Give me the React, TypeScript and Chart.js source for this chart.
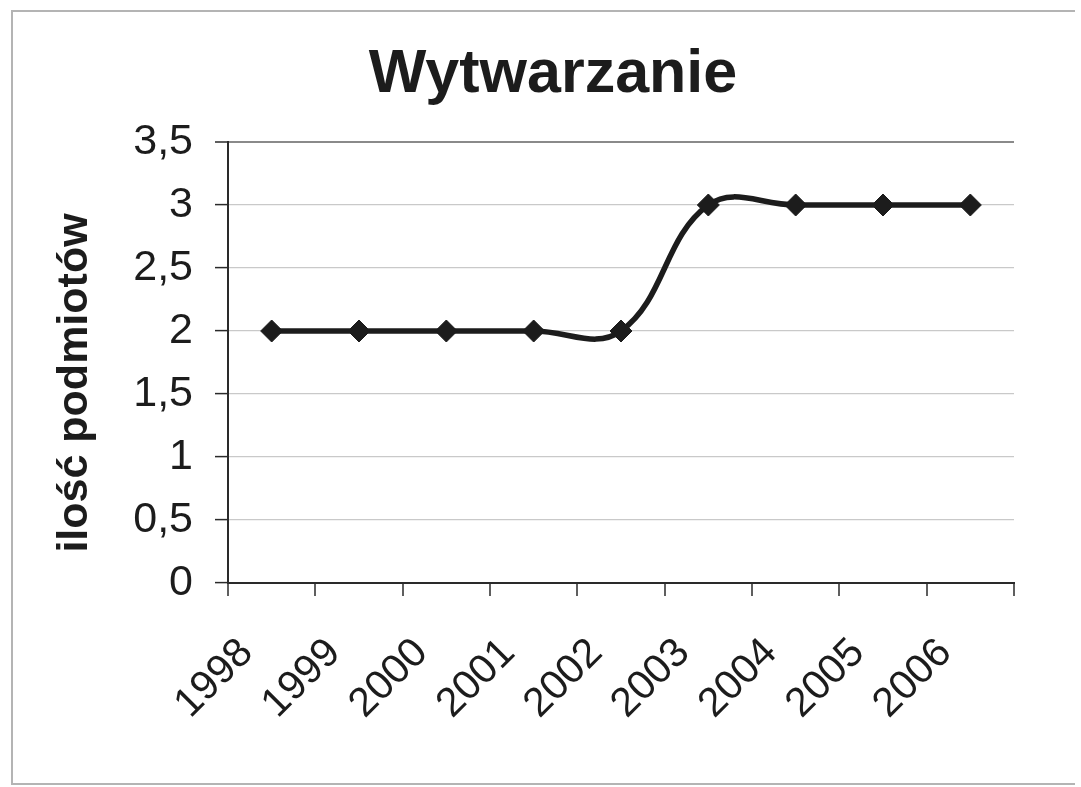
import React, { useEffect, useRef } from "react";
import { Chart, registerables } from "chart.js";

Chart.register(...registerables);

const categories = ["1998", "1999", "2000", "2001", "2002", "2003", "2004", "2005", "2006"];
const values = [2, 2, 2, 2, 2, 3, 3, 3, 3];
const yMin = 0;
const yMax = 3.5;
const yStep = 0.5;
const chartTitle = "Wytwarzanie";
const yAxisTitle = "ilość podmiotów";

const FONT = "'Liberation Sans', Arial, Helvetica, sans-serif";
const INK = "#1c1c1c";

const decorPlugin = {
  id: "decor",
  beforeDraw(chart: any) {
    const { ctx, width, height } = chart;
    ctx.save();
    ctx.fillStyle = "#ffffff";
    ctx.fillRect(0, 0, width, height);
    ctx.strokeStyle = "#b4b4b4";
    ctx.lineWidth = 2;
    ctx.beginPath();
    ctx.moveTo(1075, 11);
    ctx.lineTo(12, 11);
    ctx.lineTo(12, 784);
    ctx.lineTo(1075, 784);
    ctx.stroke();
    ctx.restore();
  },
  afterDraw(chart: any) {
    const { ctx } = chart;
    ctx.save();
    ctx.fillStyle = INK;
    ctx.font = `bold 61px ${FONT}`;
    ctx.textAlign = "center";
    ctx.textBaseline = "alphabetic";
    ctx.fillText(chartTitle, 553, 92);
    ctx.translate(87, 383);
    ctx.rotate(-Math.PI / 2);
    ctx.font = `bold 43px ${FONT}`;
    ctx.fillText(yAxisTitle, 0, 0);
    ctx.restore();
  },
};

export default function App() {
  const ref = useRef<HTMLCanvasElement>(null);

  useEffect(() => {
    if (!ref.current) return;
    const chart = new Chart(ref.current, {
      type: "line",
      data: {
        labels: categories,
        datasets: [
          {
            data: values,
            borderColor: INK,
            backgroundColor: INK,
            borderWidth: 5.5,
            tension: 0.4,
            pointStyle: "rectRot",
            pointRadius: 11,
            pointBorderWidth: 1,
            pointBackgroundColor: INK,
            pointBorderColor: INK,
          },
        ],
      },
      options: {
        responsive: false,
        animation: false,
        layout: { padding: { top: 142, right: 67, bottom: 0, left: 0 } },
        plugins: {
          legend: { display: false },
          title: { display: false },
          tooltip: { enabled: false },
        },
        scales: {
          x: {
            type: "category",
            offset: true,
            afterFit(scale: any) {
              scale.height = 204;
            },
            grid: {
              offset: true,
              drawOnChartArea: true,
              color: (c: any) => (c.index === categories.length ? "#8a8a8a" : "rgba(0,0,0,0)"),
              lineWidth: 2,
              tickColor: "#2a2a2a",
              tickLength: 13,
              tickWidth: 1.5,
            },
            border: { display: true, color: "#2a2a2a", width: 2 },
            ticks: {
              autoSkip: false,
              minRotation: 45,
              maxRotation: 45,
              labelOffset: -25,
              padding: 33,
              color: INK,
              font: { family: FONT, size: 41 },
            },
          },
          y: {
            min: yMin,
            max: yMax,
            afterFit(scale: any) {
              scale.width = 228;
            },
            grid: {
              color: (c: any) => (c.tick && c.tick.value === yMax ? "#8a8a8a" : "#c9c9c9"),
              lineWidth: (c: any) => (c.tick && c.tick.value === yMax ? 2 : 1.2),
              tickColor: "#2a2a2a",
              tickLength: 13,
              tickWidth: 1.5,
            },
            border: { display: true, color: "#2a2a2a", width: 2 },
            ticks: {
              stepSize: yStep,
              padding: 22,
              color: INK,
              font: { family: FONT, size: 43 },
              callback: (v: any) => String(v).replace(".", ","),
            },
          },
        },
      },
      plugins: [decorPlugin],
    });
    return () => chart.destroy();
  }, []);

  return (
    <div style={{ position: "absolute", left: 0, top: 0, width: 1081, height: 787 }}>
      <canvas ref={ref} width={1081} height={787} style={{ display: "block" }} />
    </div>
  );
}
